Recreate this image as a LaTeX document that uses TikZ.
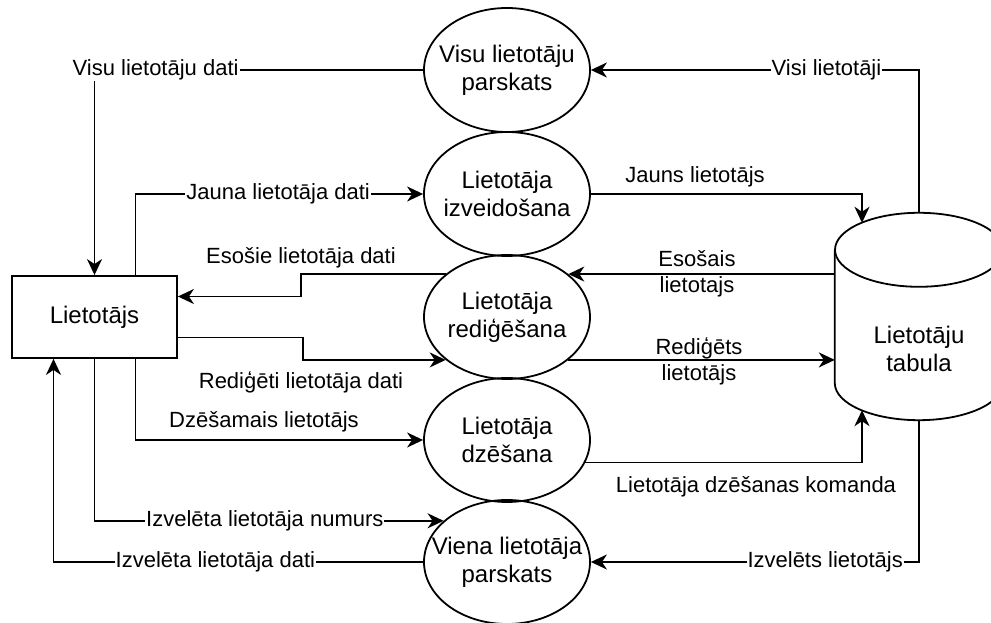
\documentclass[tikz,border=0pt]{standalone}
\usepackage{fontspec}
\setmainfont{Liberation Sans}
\usetikzlibrary{arrows.meta,shapes.geometric}

\tikzset{
    proc/.style={ellipse, draw, line width=1.8pt, minimum width=166pt, minimum height=124pt,
            inner xsep=-30pt, inner ysep=0pt, align=center, font=\fontsize{24}{28}\selectfont},
    ent/.style={rectangle, draw, line width=1.8pt, minimum width=165pt, minimum height=82pt,
            font=\fontsize{24}{28}\selectfont},
    flow/.style={line width=1.8pt, -{Stealth[length=16pt,width=15pt,inset=5pt]}},
    lbl/.style={font=\fontsize{22}{26}\selectfont, align=center, inner sep=1pt},
    onlbl/.style={lbl, fill=white},
}

\begin{document}
\begin{tikzpicture}[x=1pt,y=1pt]
    \useasboundingbox (0,0) rectangle (991,623);
    % Draw the processes
    \foreach \n/\y/\txt in {e1/553/{Visu lietotāju\\parskats}, e2/429/{Lietotāja\\izveidošana},
            e3/306/{Lietotāja\\rediģēšana}, e4/183/{Lietotāja\\dzēšana}, e5/61/{Viena lietotāja\\parskats}} {
            \node[proc] (\n) at (507,\y) {\txt};
        }
    % External entity
    \node[ent] (user) at (94.5,306) {Lietotājs};
    % Data store
    \node[minimum width=168pt, minimum height=133pt, inner sep=0pt] (db) at (919,306.5) {};
    \draw[line width=1.8pt, fill=white] (db.north west) -- (db.south west)
        arc[start angle=180, end angle=360, x radius=84, y radius=37] -- (db.north east);
    \draw[line width=1.8pt] (db.north) ellipse[x radius=84, y radius=37];
    \node[font=\fontsize{24}{28}\selectfont, align=center] (dbname) at (919,274) {Lietotāju\\tabula};
    \coordinate (dbhead) at ([yshift=37pt]db.north);
    \coordinate (dbfoot) at ([yshift=-37pt]db.south);
    \coordinate (dbin) at ([shift={(-57pt,27pt)}]db.north);
    \coordinate (dbdel) at ([shift={(-57pt,-27pt)}]db.south);
    % Data flows
    \draw[flow] (dbhead) |- (e1.east) node[onlbl, pos=0.641] (fAll) {Visi lietotāji};
    \draw[flow] (e1.west) -| (user.north) node[onlbl, pos=0.407] (fAllData) {Visu lietotāju dati};
    \draw[flow] ([xshift=41pt]user.north) |- (e2.west) node[onlbl, pos=0.748] (fNewData) {Jauna lietotāja dati};
    \draw[flow] (e2.east) -| (dbin);
    \node[lbl] (fNew) at (695,446) {Jauns lietotājs};
    \draw[flow] (e3.35 -| db.west) -- (e3.35);
    \node[lbl] (fOld) at (697,349) {Esošais\\lietotajs};
    \draw[flow] (e3.145) -- ++(-145,0) |- ([yshift=20.5pt]user.east);
    \node[lbl] (fOldData) at (301,365) {Esošie lietotāja dati};
    \draw[flow] ([yshift=-20.5pt]user.east) -- ++(125,0) |- (e3.215);
    \node[lbl] (fEditData) at (301,241) {Rediģēti lietotāja dati};
    \draw[flow] (e3.325) -- (e3.325 -| db.west);
    \node[lbl] (fEdit) at (699,262) {Rediģēts\\lietotājs};
    \draw[flow] ([xshift=41pt]user.south) |- (e4.west);
    \node[lbl] (fDel) at (264,201) {Dzēšamais lietotājs};
    \draw[flow] (e4.344) -| (dbdel);
    \node[lbl] (fDelCmd) at (756,136) {Lietotāja dzēšanas komanda};
    \draw[flow] (user.south) |- (e5.147) node[onlbl, pos=0.744] (fNum) {Izvelēta lietotāja numurs};
    \draw[flow] (e5.west) -| ([xshift=-41pt]user.south) node[onlbl, pos=0.281] (fOneData) {Izvelēta lietotāja dati};
    \draw[flow] (dbfoot) |- (e5.east) node[onlbl, pos=0.643] (fOne) {Izvelēts lietotājs};
\end{tikzpicture}
\end{document}
